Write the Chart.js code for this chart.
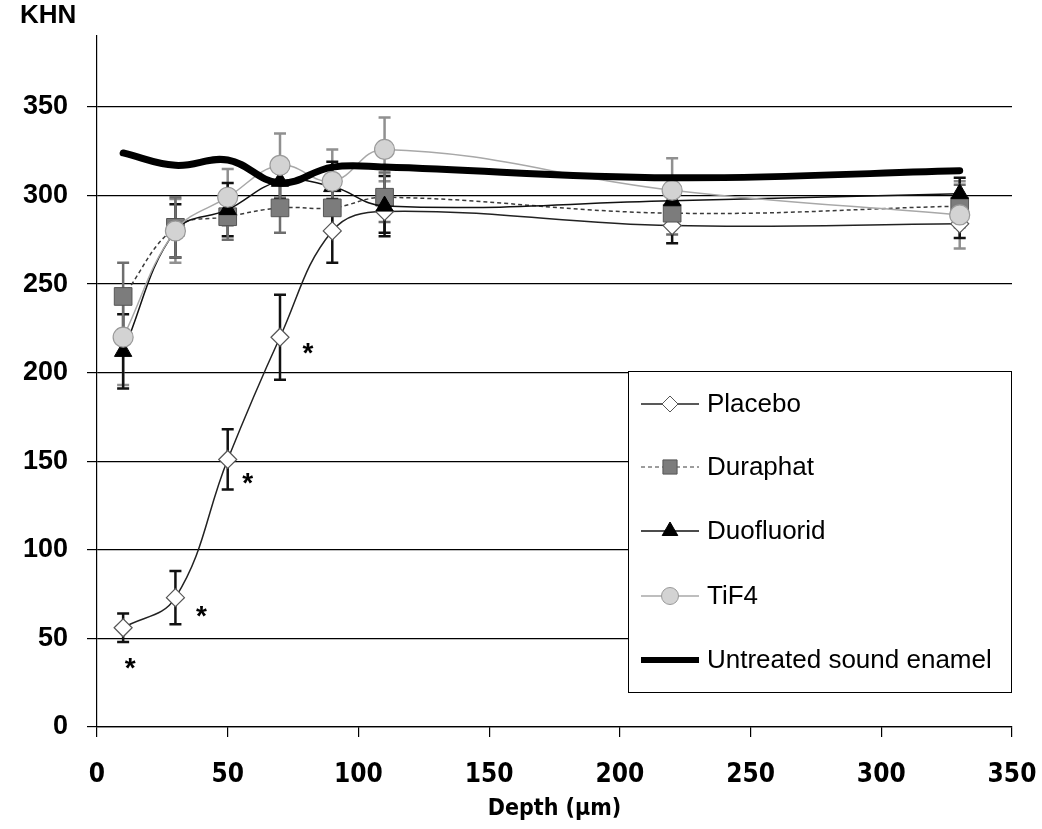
<!DOCTYPE html>
<html>
<head>
<meta charset="utf-8">
<script src="https://cdn.jsdelivr.net/npm/chart.js@4.4.1/dist/chart.umd.min.js"></script>
<style>
html,body{margin:0;padding:0;background:#fff;}
#wrap{width:1042px;height:829px;position:relative;}
</style>
</head>
<body>
<div id="wrap"><canvas id="c" width="1042" height="829"></canvas></div>
<script>
// ---- data ----
const depths = [10, 30, 50, 70, 90, 110, 220, 330];
const placebo = [56, 73, 151, 220, 280, 291, 283, 284];
const placeboErr = [8, 15, 17, 24, 18, 12, 10, 8];
const duraphat = [243, 282, 288, 293, 293, 299, 290, 294];
const duraphatErr = [19, 17, 13, 14, 14, 14, 12, 12];
const duofluorid = [212, 280, 292, 308, 305, 294, 297, 301];
const duofluoridErr = [21, 15, 15, 10, 14, 17, 12, 9];
const tif4 = [220, 280, 299, 317, 308, 326, 303, 289];
const tif4Err = [27, 18, 16, 18, 18, 18, 18, 19];
const untreated = [324, 317, 320, 307, 316, 316, 310, 314];
const placeboSignificant = [true, true, true, true, false, false, false, false];
const seriesNames = ['Placebo', 'Duraphat', 'Duofluorid', 'TiF4', 'Untreated sound enamel'];
const xTickValues = [0, 50, 100, 150, 200, 250, 300, 350];
const yTickValues = [0, 50, 100, 150, 200, 250, 300, 350];
const xTitle = 'Depth (µm)';
const yTitle = 'KHN';

const pts = (arr) => depths.map((d, i) => ({x: d, y: arr[i]}));

const FONT = "'Liberation Sans', Arial, sans-serif";
const NARROW = "'Liberation Sans Narrow', 'Arial Narrow', 'DejaVu Sans Condensed', sans-serif";

const errorBarPlugin = {
  id: 'errorBars',
  beforeDatasetsDraw(chart) {
    const ctx = chart.ctx, xs = chart.scales.x, ys = chart.scales.y;
    const list = chart.data.datasets.map((d, i) => i).reverse();
    list.forEach(i => {
      const ds = chart.data.datasets[i];
      if (!ds.errors) return;
      ctx.save();
      ctx.strokeStyle = ds.errorColor;
      ctx.lineWidth = 2.5;
      ds.data.forEach((p, j) => {
        const e = ds.errors[j];
        const x = xs.getPixelForValue(p.x);
        const yt = ys.getPixelForValue(p.y + e);
        const yb = ys.getPixelForValue(p.y - e);
        ctx.beginPath();
        ctx.moveTo(x, yt); ctx.lineTo(x, yb);
        ctx.moveTo(x - 6, yt); ctx.lineTo(x + 6, yt);
        ctx.moveTo(x - 6, yb); ctx.lineTo(x + 6, yb);
        ctx.stroke();
      });
      ctx.restore();
    });
  }
};

const annotPlugin = {
  id: 'annot',
  afterDatasetsDraw(chart) {
    const ctx = chart.ctx;
    const meta = chart.getDatasetMeta(0);
    const offs = [[7, 33], [26, 11], [20, 17], [28, 9]];
    ctx.save();
    ctx.fillStyle = '#000';
    ctx.font = 'bold 28px ' + FONT;
    ctx.textAlign = 'center';
    ctx.textBaseline = 'alphabetic';
    placeboSignificant.forEach((s, j) => {
      if (!s) return;
      const el = meta.data[j];
      const o = offs[j] || [20, 10];
      ctx.fillText('*', el.x + o[0], el.y + o[1] + 16);
    });
    ctx.restore();
  },
  afterDraw(chart) {
    const ctx = chart.ctx;
    ctx.save();
    // y axis title (KHN)
    ctx.fillStyle = '#000';
    ctx.font = 'bold 26px ' + FONT;
    ctx.textAlign = 'left';
    ctx.textBaseline = 'middle';
    ctx.fillText(yTitle, 20, 16);
    // legend box
    const bx = 628.5, by = 371.5, bw = 383, bh = 321;
    ctx.fillStyle = '#fff';
    ctx.fillRect(bx, by, bw, bh);
    ctx.strokeStyle = '#000';
    ctx.lineWidth = 1;
    ctx.strokeRect(bx, by, bw, bh);
    const rows = [404, 467, 531, 596, 660];
    chart.data.datasets.forEach((ds, i) => {
      const y = rows[i];
      ctx.save();
      ctx.strokeStyle = ds.borderColor;
      ctx.lineWidth = ds.legendLineWidth;
      ctx.setLineDash(ds.borderDash || []);
      ctx.beginPath();
      ctx.moveTo(641, y); ctx.lineTo(699, y);
      ctx.stroke();
      ctx.restore();
      if (ds.pointStyle && ds.pointRadius > 0) {
        ctx.save();
        ctx.fillStyle = ds.pointBackgroundColor;
        ctx.strokeStyle = ds.pointBorderColor;
        ctx.lineWidth = 1;
        Chart.helpers.drawPoint(ctx, {pointStyle: ds.pointStyle, radius: ds.legendRadius, rotation: 0, borderWidth: 1}, 670, y);
        ctx.restore();
      }
      ctx.fillStyle = '#000';
      ctx.font = '26px ' + FONT;
      ctx.textAlign = 'left';
      ctx.textBaseline = 'middle';
      ctx.fillText(seriesNames[i], 707, y + 1);
    });
    ctx.restore();
  }
};

const chart = new Chart(document.getElementById('c'), {
  type: 'line',
  data: {
    datasets: [
      {
        label: seriesNames[0], data: pts(placebo), errors: placeboErr, errorColor: '#111',
        borderColor: '#222', borderWidth: 1.5, legendLineWidth: 1.5,
        pointStyle: 'rectRot', pointRadius: 9, legendRadius: 8,
        pointBackgroundColor: '#fff', pointBorderColor: '#555', pointBorderWidth: 1.2,
        tension: 0.4, order: 5
      },
      {
        label: seriesNames[1], data: pts(duraphat), errors: duraphatErr, errorColor: '#6e6e6e',
        borderColor: '#3a3a3a', borderWidth: 1.5, borderDash: [4, 3], legendLineWidth: 1,
        pointStyle: 'rect', pointRadius: 12.5, legendRadius: 10,
        pointBackgroundColor: '#7c7c7c', pointBorderColor: '#555', pointBorderWidth: 1,
        tension: 0.4, order: 4
      },
      {
        label: seriesNames[2], data: pts(duofluorid), errors: duofluoridErr, errorColor: '#111',
        borderColor: '#111', borderWidth: 1.5, legendLineWidth: 1.5,
        pointStyle: 'triangle', pointRadius: 10, legendRadius: 9,
        pointBackgroundColor: '#000', pointBorderColor: '#000', pointBorderWidth: 1,
        tension: 0.4, order: 3
      },
      {
        label: seriesNames[3], data: pts(tif4), errors: tif4Err, errorColor: '#909090',
        borderColor: '#a8a8a8', borderWidth: 1.5, legendLineWidth: 1.5,
        pointStyle: 'circle', pointRadius: 10, legendRadius: 8.5,
        pointBackgroundColor: '#d3d3d3', pointBorderColor: '#9a9a9a', pointBorderWidth: 1.2,
        tension: 0.4, order: 2
      },
      {
        label: seriesNames[4], data: pts(untreated),
        borderColor: '#000', borderWidth: 7, legendLineWidth: 6,
        pointStyle: false, pointRadius: 0, borderCapStyle: 'round',
        tension: 0.4, order: 1
      }
    ]
  },
  options: {
    responsive: false,
    animation: false,
    events: [],
    layout: {padding: {left: 0, right: 30, top: 36, bottom: 0}},
    plugins: {legend: {display: false}, tooltip: {enabled: false}, title: {display: false}},
    scales: {
      x: {
        type: 'linear', position: 'bottom', min: 0, max: 350,
        afterFit(s) { s.height = 102; s.paddingLeft = 0; s.paddingRight = 0; },
        afterBuildTicks(s) { s.ticks = xTickValues.map(v => ({value: v})); },
        border: {display: true, color: '#000', width: 1.2},
        grid: {drawOnChartArea: false, drawTicks: true, tickLength: 10, color: '#000', lineWidth: 1.2},
        ticks: {color: '#000', font: {family: NARROW, size: 26, weight: 'bold'}, padding: 23, maxRotation: 0},
        title: {display: true, text: xTitle, color: '#000', font: {family: NARROW, size: 23, weight: 'bold'}, padding: {top: 0, bottom: 6}}
      },
      y: {
        type: 'linear', min: 0, max: 390,
        afterFit(s) { s.width = 97; s.paddingTop = 0; s.paddingBottom = 0; },
        afterBuildTicks(s) { s.ticks = yTickValues.map(v => ({value: v})); },
        border: {display: true, color: '#000', width: 1.2},
        grid: {drawOnChartArea: true, drawTicks: true, tickLength: 10, color: '#000', lineWidth: 1.2},
        ticks: {color: '#000', font: {family: FONT, size: 27, weight: 'bold'}, padding: 19}
      }
    }
  },
  plugins: [errorBarPlugin, annotPlugin]
});
</script>
</body>
</html>
